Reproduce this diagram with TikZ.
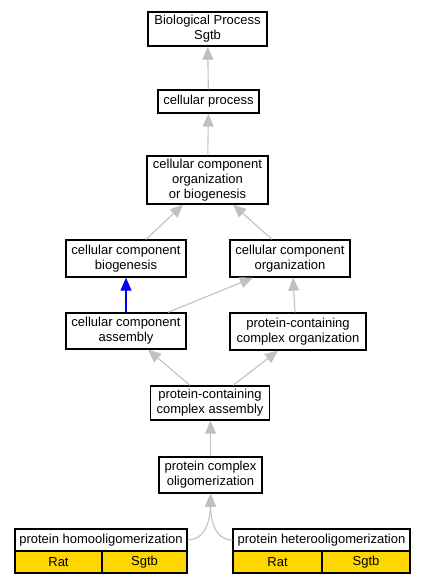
\documentclass[tikz,border=0pt]{standalone}
\usepackage{fontspec}
\setmainfont{Liberation Sans}
\usetikzlibrary{arrows.meta}
\definecolor{edgegray}{HTML}{C0C0C0}
\definecolor{genegold}{HTML}{FFD700}

\begin{document}
\begin{tikzpicture}[x=1pt, y=1pt,
    term/.style = {draw, rectangle, fill=white, line width=1.3pt, inner sep=0pt, align=center,
                   font=\fontsize{13}{15}\selectfont},
    gene/.style = {term, fill=genegold, minimum height=22pt},
    isa/.style = {-{Triangle[length=13pt,width=11pt]}, edgegray, line width=1.1pt}]
            \useasboundingbox (0,0) rectangle (425,-584);

            \node[term, minimum width=119pt, minimum height=34pt] (BP) at (207.5,-29) {Biological Process\\Sgtb};
            \node[term, minimum width=101pt, minimum height=23pt] (CP) at (208.5,-101.5) {cellular process};
            \node[term, minimum width=121pt, minimum height=48pt] (CCOB) at (207.5,-180) {cellular component\\organization\\or biogenesis};
            \node[term, minimum width=120pt, minimum height=37pt] (CCB) at (126,-258.5) {cellular component\\biogenesis};
            \node[term, minimum width=120pt, minimum height=37pt] (CCO) at (290,-258.5) {cellular component\\organization};
            \node[term, minimum width=120pt, minimum height=36pt] (CCA) at (126,-331) {cellular component\\assembly};
            \node[term, minimum width=136pt, minimum height=37pt] (PCCO) at (298,-331.5) {protein-containing\\complex organization};
            \node[term, minimum width=119pt, minimum height=34pt] (PCCA) at (210,-403) {protein-containing\\complex assembly};
            \node[term, minimum width=103pt, minimum height=36pt] (OLIG) at (210.5,-475) {protein complex\\oligomerization};

            % annotated terms with gene rows
            \node[term, minimum width=172pt, minimum height=22pt] (HOMO) at (101,-540) {protein homooligomerization};
            \node[gene, minimum width=87pt] (HOMOrat) at (58.5,-562) {Rat};
            \node[gene, minimum width=85pt] (HOMOsgtb) at (144.5,-562) {Sgtb};
            \node[term, minimum width=177pt, minimum height=22pt] (HETERO) at (321.5,-540) {protein heterooligomerization};
            \node[gene, minimum width=89pt] (HETEROrat) at (277.5,-562) {Rat};
            \node[gene, minimum width=88pt] (HETEROsgtb) at (366,-562) {Sgtb};

            \path[isa] (CP) edge (BP);
            \path[isa] (CCOB) edge (CP);
            \path[isa] ([xshift=20pt]CCB.north) edge ([xshift=-24.5pt]CCOB.south);
            \path[isa] ([xshift=-18pt]CCO.north) edge ([xshift=25.5pt]CCOB.south);
            \path[isa, blue] (CCA) edge (CCB);
            \path[isa] ([xshift=42pt]CCA.north) edge ([xshift=-37pt]CCO.south);
            \path[isa] ([xshift=-3pt]PCCO.north) edge ([xshift=3pt]CCO.south);
            \path[isa] ([xshift=-20pt]PCCA.north) edge ([xshift=22pt]CCA.south);
            \path[isa] ([xshift=23pt]PCCA.north) edge ([xshift=-20pt]PCCO.south);
            \path[isa] ([xshift=0.5pt]PCCA.south |- OLIG.north) edge ([xshift=0.5pt]PCCA.south);

            \path[isa] (HOMO) edge [out=0, in=-90] (OLIG);
            \path[isa] (HETERO) edge [out=180, in=-90] (OLIG);
        \end{tikzpicture}
\end{document}
